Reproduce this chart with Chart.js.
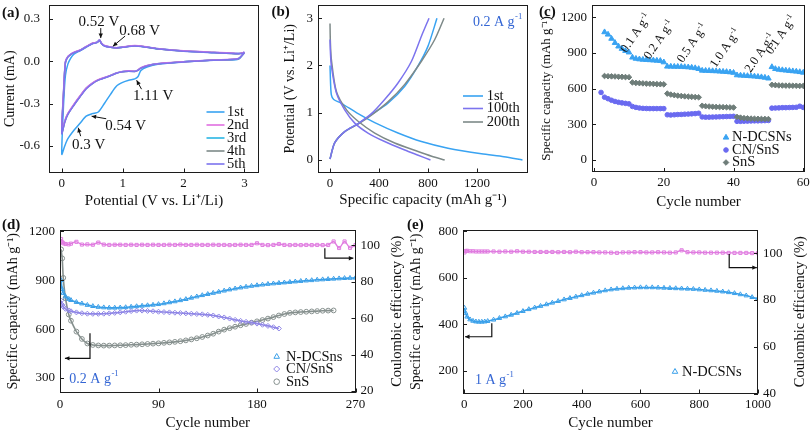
<!DOCTYPE html>
<html>
<head>
<meta charset="utf-8">
<title>Electrochemical performance</title>
<script src="https://cdn.jsdelivr.net/npm/chart.js@4.4.1/dist/chart.umd.min.js"></script>
<style>
  body { margin: 0; background: #fff; }
  #fig { position: relative; width: 810px; height: 433px; overflow: hidden; background: #fff; }
  #fig canvas { position: absolute; }
</style>
</head>
<body>
<div id="fig">
  <canvas id="chartA" width="265" height="215" style="left:0;top:0"></canvas>
  <canvas id="chartB" width="265" height="215" style="left:265px;top:0"></canvas>
  <canvas id="chartC" width="280" height="215" style="left:530px;top:0"></canvas>
  <canvas id="chartD" width="405" height="218" style="left:0;top:215px"></canvas>
  <canvas id="chartE" width="405" height="218" style="left:405px;top:215px"></canvas>
</div>
<script>
// ===== Data =====

// (a) cyclic voltammetry: cathodic sweep 3 -> 0 V, then anodic 0 -> 3 V
const cvPotential = [3.0, 2.9, 2.5, 2.0, 1.6, 1.4, 1.3, 1.25, 1.2, 1.1,
  1.0, 0.9, 0.8, 0.7, 0.6, 0.5, 0.4, 0.3, 0.2, 0.1, 0.05, 0.0,
  0.03, 0.06, 0.1, 0.15, 0.2, 0.3, 0.4, 0.5, 0.58, 0.62,
  0.65, 0.7, 0.8, 0.9, 1.0, 1.2, 1.4, 1.6, 2.0, 2.5, 2.9, 2.98, 3.0];
const cvCycle1 = [0.06, 0.015, 0.008, -0.003, -0.02, -0.04, -0.065, -0.11, -0.125, -0.135,
  -0.15, -0.175, -0.235, -0.3, -0.36, -0.372, -0.39, -0.44, -0.49, -0.55, -0.6, -0.66,
  -0.3, -0.1, -0.02, 0.025, 0.05, 0.075, 0.1, 0.125, 0.135, 0.15,
  0.13, 0.11, 0.1, 0.095, 0.1, 0.11, 0.1, 0.088, 0.074, 0.063, 0.055, 0.06, 0.065];
const cvCycle2 = [0.065, 0.02, 0.01, -0.003, -0.015, -0.03, -0.045, -0.062, -0.07, -0.068,
  -0.072, -0.082, -0.1, -0.115, -0.13, -0.155, -0.19, -0.245, -0.305, -0.37, -0.42, -0.5,
  -0.2, 0.0, 0.035, 0.052, 0.064, 0.08, 0.105, 0.128, 0.136, 0.152,
  0.13, 0.112, 0.102, 0.097, 0.102, 0.112, 0.102, 0.09, 0.075, 0.064, 0.056, 0.061, 0.066];
const cvCycle3 = [0.064, 0.019, 0.009, -0.004, -0.016, -0.031, -0.047, -0.063, -0.071, -0.069,
  -0.073, -0.083, -0.101, -0.117, -0.132, -0.157, -0.192, -0.248, -0.308, -0.373, -0.425, -0.505,
  -0.21, -0.005, 0.033, 0.05, 0.062, 0.079, 0.104, 0.127, 0.135, 0.151,
  0.129, 0.111, 0.101, 0.096, 0.101, 0.111, 0.101, 0.089, 0.074, 0.063, 0.055, 0.06, 0.065];
const cvCycle4 = [0.063, 0.018, 0.009, -0.004, -0.017, -0.032, -0.048, -0.064, -0.072, -0.07,
  -0.074, -0.084, -0.102, -0.118, -0.133, -0.158, -0.194, -0.25, -0.31, -0.376, -0.43, -0.51,
  -0.22, -0.008, 0.032, 0.05, 0.062, 0.078, 0.103, 0.126, 0.134, 0.15,
  0.128, 0.11, 0.1, 0.095, 0.1, 0.11, 0.1, 0.088, 0.073, 0.062, 0.054, 0.059, 0.064];
const cvCycle5 = [0.062, 0.018, 0.008, -0.005, -0.018, -0.033, -0.049, -0.065, -0.073, -0.071,
  -0.075, -0.085, -0.103, -0.119, -0.134, -0.16, -0.196, -0.252, -0.312, -0.378, -0.432, -0.515,
  -0.23, -0.01, 0.03, 0.049, 0.061, 0.077, 0.102, 0.125, 0.133, 0.149,
  0.127, 0.109, 0.099, 0.094, 0.099, 0.109, 0.099, 0.087, 0.072, 0.061, 0.053, 0.058, 0.063];
const cvTicksX = [0, 1, 2, 3];
const cvTicksY = [0.3, 0.0, -0.3, -0.6];

// (b) charge / discharge profiles at 0.2 A g-1
const dis1stCap = [0, 5, 11, 30, 93, 229, 365, 555, 746, 963, 1236, 1420, 1571];
const dis1stV   = [2.0, 1.6, 1.38, 1.28, 1.2, 0.98, 0.79, 0.57, 0.39, 0.25, 0.13, 0.07, 0.0];
const dis100Cap = [0, 3, 11, 52, 120, 202, 310, 446, 610, 720, 820];
const dis100V   = [2.55, 2.3, 1.99, 1.42, 1.06, 0.78, 0.57, 0.39, 0.21, 0.1, 0.0];
const dis200Cap = [0, 3, 11, 52, 135, 229, 365, 528, 718, 830, 936];
const dis200V   = [2.89, 2.5, 2.13, 1.45, 1.06, 0.82, 0.57, 0.36, 0.18, 0.08, 0.0];
const ch1stCap  = [0, 38, 120, 229, 338, 473, 610, 718, 800, 873];
const ch1stV    = [0.02, 0.36, 0.6, 0.77, 0.96, 1.2, 1.56, 1.99, 2.41, 3.0];
const ch100Cap  = [0, 38, 120, 229, 338, 446, 555, 665, 746, 808];
const ch100V    = [0.02, 0.36, 0.6, 0.77, 0.98, 1.28, 1.63, 2.09, 2.62, 3.0];
const ch200Cap  = [0, 38, 120, 229, 338, 473, 610, 746, 855, 931];
const ch200V    = [0.02, 0.36, 0.6, 0.76, 0.95, 1.23, 1.6, 2.09, 2.55, 3.0];
const gcdTicksX = [0, 400, 800, 1200];
const gcdTicksY = [0, 1, 2, 3];

// (c) rate capability
const rateCycles = [1, 2, 3, 4, 5, 6, 7, 8, 9, 10, 11, 12, 13, 14, 15, 16, 17, 18, 19, 20,
  21, 22, 23, 24, 25, 26, 27, 28, 29, 30, 31, 32, 33, 34, 35, 36, 37, 38, 39, 40,
  41, 42, 43, 44, 45, 46, 47, 48, 49, 50, 51, 52, 53, 54, 55, 56, 57, 58, 59, 60];
const rateNDC = [null, null, 1075, 1055, 1020, 985, 955, 935, 918, 905,
  862, 852, 847, 844, 842, 840, 838, 836, 834, 822,
  786, 786, 785, 785, 784, 782, 780, 777, 773, 766,
  752, 751, 750, 748, 747, 745, 743, 741, 738, 734,
  713, 711, 709, 707, 705, 703, 700, 697, 693, 686,
  782, 766, 760, 756, 753, 750, 747, 744, 740, 735];
const rateCN = [null, 568, 528, 515, 502, 492, 485, 480, 476, 472,
  450, 442, 437, 434, 433, 432, 432, 432, 432, 432,
  380, 378, 380, 382, 383, 385, 386, 388, 390, 393,
  362, 360, 360, 361, 362, 363, 364, 365, 366, 367,
  325, 325, 326, 327, 328, 329, 329, 330, 331, 332,
  436, 437, 438, 440, 440, 441, 442, 443, 452, 442];
const rateSnS = [null, null, 706, 704, 703, 702, 700, 699, 697, 696,
  652, 648, 646, 644, 642, 641, 640, 638, 637, 636,
  558, 550, 545, 541, 538, 535, 533, 531, 529, 527,
  456, 452, 450, 448, 446, 445, 444, 443, 442, 441,
  362, 356, 352, 350, 348, 347, 346, 345, 345, 344,
  632, 629, 627, 626, 625, 625, 624, 624, 623, 623];
const rateLabels = ['0.1', '0.2', '0.5', '1.0', '2.0', '0.1'];
const rateTicksX = [0, 20, 40, 60];
const rateTicksY = [0, 300, 600, 900, 1200];

// (d) cycling at 0.2 A g-1
const longCycles = [1, 2, 3, 5, 8, 10, 15, 20, 25, 30, 35, 40, 45, 50, 55, 60, 65, 70, 75, 80,
  85, 90, 95, 100, 105, 110, 115, 120, 125, 130, 135, 140, 145, 150, 155, 160, 165, 170, 175, 180,
  185, 190, 195, 200, 205, 210, 215, 220, 225, 230, 235, 240, 245, 250, 255, 260, 265, 270];
const longNDC = [900, 845, 822, 800, 785, 778, 766, 757, 748, 741, 736, 733, 731, 731, 732, 734,
  737, 740, 743, 746, 749, 753, 758, 764, 770, 777, 784, 792, 800, 808, 815, 822, 829, 836, 843, 849,
  855, 860, 865, 869, 873, 877, 880, 883, 886, 889, 892, 895, 898, 900, 903, 905, 907, 909, 911, 913,
  914, 915];
const longCN = [775, 750, 738, 725, 715, 710, 703, 698, 695, 694, 694, 695, 697, 700, 703, 707,
  711, 714, 714, 712, 710, 707, 705, 703, 701, 699, 697, 695, 693, 691, 688, 684, 678, 672, 665, 657,
  651, 645, 640, 634, 627, 620, 612, 604, null, null, null, null, null, null, null, null, null, null,
  null, null, null, null];
const longSnS = [1090, 1035, 915, 790, 690, 652, 585, 540, 512, 503, 500, 499, 499, 500, 501, 502,
  504, 505, 507, 509, 511, 513, 516, 519, 522, 526, 531, 537, 544, 552, 561, 572, 585, 597, 606, 615,
  624, 632, 640, 648, 656, 665, 674, 684, 693, 700, 703, 705, 707, 709, 711, 713, 714, 715, null, null,
  null, null];
const longCE = [103.5, 101.8, 101.2, 100.8, 100.6, 101.0, 102.0, 100.5, 100.6, 100.4, 101.6, 100.5,
  100.3, 100.4, 100.4, 100.3, 100.4, 100.3, 100.4, 100.3, 100.4, 100.3, 100.3, 100.4, 100.3, 100.5,
  100.3, 100.3, 100.4, 100.3, 100.3, 100.4, 100.3, 100.3, 100.2, 100.3, 100.4, 100.3, 100.3, 101.2,
  100.3, 100.2, 100.3, 100.8, 100.3, 100.2, 100.3, 100.2, 100.3, 100.2, 100.3, 100.2, 100.3, 102.2,
  98.6, 102.2, 98.7, 100.2];
const longTicksX = [0, 90, 180, 270];
const longTicksY = [300, 600, 900, 1200];
const longTicksCE = [20, 40, 60, 80, 100];

// (e) cycling at 1 A g-1
const highCycles = [1, 5, 10, 20, 30, 40, 50, 60, 70, 80, 100, 120, 140, 160, 180, 200, 220, 240, 260, 280,
  300, 320, 340, 360, 380, 400, 420, 440, 460, 480, 500, 520, 540, 560, 580, 600, 620, 640, 660, 680,
  700, 720, 740, 760, 780, 800, 820, 840, 860, 880, 900, 920, 940, 960, 980, 1000];
const highNDC = [470, 448, 432, 420, 414, 411, 410, 410, 411, 413, 419, 426, 433, 440, 448, 456, 464, 471, 478, 485,
  492, 499, 506, 512, 518, 524, 530, 535, 540, 545, 549, 552, 554, 556, 557, 558, 558, 558, 557, 556,
  555, 554, 553, 552, 551, 549, 547, 545, 543, 540, 537, 533, 528, 523, 516, 510];
const highCE = [100.4, 101.0, 101.1, 100.9, 100.9, 100.8, 100.8, 100.8, 100.8, 100.8,
  100.8, 100.7, 100.8, 100.7, 100.9, 100.7, 100.7, 100.6, 100.6, 100.6,
  100.6, 100.5, 100.6, 100.5, 100.7, 100.5, 100.5, 100.5, 100.4, 100.4,
  100.3, 100.2, 100.4, 100.4, 100.5, 100.5, 100.4, 100.4, 100.5, 100.4,
  100.3, 100.4, 101.3, 100.5, 100.4, 100.4, 100.3, 100.3, 100.3, 100.3,
  100.2, 100.2, 100.2, 100.2, 100.1, 100.1];
const highTicksX = [0, 200, 400, 600, 800, 1000];
const highTicksY = [200, 400, 600, 800];
const highTicksCE = [40, 60, 80, 100];

// ===== Styling =====
const FONT = '"Liberation Serif", "Times New Roman", serif';
const INK = '#111';
const BLUE_TXT = '#3466d4';
const C_LIGHT = '#39a3f2';
const C_PINK = '#e06fe0';
const C_CYAN = '#2ab6e4';
const C_GRAY = '#7e8a89';
const C_SLATE = '#7c74ee';
const C_CE = '#e07ce0';

Chart.defaults.font.family = FONT;
Chart.defaults.color = INK;

// ===== Helpers =====
function pairs(xs, ys) {
  return xs.map((x, i) => ({ x, y: ys[i] })).filter(p => p.y !== null && p.y !== undefined);
}

function lineSet(xs, ys, color, width) {
  return { data: pairs(xs, ys), showLine: true, borderColor: color, borderWidth: width || 1.5,
    pointRadius: 0, tension: 0.25, fill: false };
}

function markSet(xs, ys, color, style, radius, open, yAxisID, lineWidth) {
  return { data: pairs(xs, ys), yAxisID: yAxisID || 'y', showLine: !!lineWidth, borderWidth: lineWidth || 0,
    borderColor: color, pointStyle: style, pointRadius: radius, pointBorderWidth: 1,
    pointBorderColor: color, pointBackgroundColor: open ? 'rgba(255,255,255,0)' : color, tension: 0.3 };
}

function linAxis(o) {
  const horiz = o.position === 'bottom';
  return {
    type: 'linear', position: o.position, min: o.min, max: o.max,
    afterBuildTicks: s => { s.ticks = o.ticks.map(v => ({ value: v })); },
    afterFit: s => {
      if (horiz) s.height = o.size; else s.width = o.size;
      s.paddingLeft = 0; s.paddingRight = 0; s.paddingTop = 0; s.paddingBottom = 0;
    },
    grid: { display: false, drawTicks: false },
    border: { display: false },
    ticks: { padding: o.tickPad, autoSkip: false, maxRotation: 0, color: INK, font: { size: 13 },
      callback: v => (o.fmt ? o.fmt(v) : String(v)) },
    title: { display: !!o.title, text: o.title || '', color: INK, font: { size: o.titleSize || 15 },
      padding: { top: o.titlePad || 0, bottom: o.titlePad || 0 } }
  };
}

function baseOptions(padding, scales) {
  return {
    responsive: false, animation: false, devicePixelRatio: 1, events: [],
    layout: { padding },
    plugins: { legend: { display: false }, tooltip: { enabled: false } },
    scales
  };
}

// frame round the plot area + short inward ticks
const frameTicks = {
  id: 'frameTicks',
  afterDatasetsDraw(chart) {
    const { ctx, chartArea: a } = chart;
    ctx.save();
    ctx.strokeStyle = '#1c1c1c';
    ctx.lineWidth = 1;
    ctx.strokeRect(Math.round(a.left) + 0.5, Math.round(a.top) + 0.5,
      Math.round(a.right - a.left) - 1, Math.round(a.bottom - a.top) - 1);
    Object.values(chart.scales).forEach(s => {
      s.ticks.forEach(t => {
        const p = Math.round(s.getPixelForValue(t.value)) + 0.5;
        ctx.beginPath();
        if (s.isHorizontal()) { ctx.moveTo(p, a.bottom); ctx.lineTo(p, a.bottom - 4); }
        else if (s.position === 'left') { ctx.moveTo(a.left, p); ctx.lineTo(a.left + 4, p); }
        else { ctx.moveTo(a.right, p); ctx.lineTo(a.right - 4, p); }
        ctx.stroke();
      });
    });
    ctx.restore();
  }
};

function px(chart, x, y, yId) {
  return [chart.scales.x.getPixelForValue(x), chart.scales[yId || 'y'].getPixelForValue(y)];
}

function arrow(ctx, pts, head) {
  head = head || 5;
  ctx.beginPath();
  ctx.moveTo(pts[0][0], pts[0][1]);
  pts.slice(1).forEach(p => ctx.lineTo(p[0], p[1]));
  ctx.stroke();
  const [x1, y1] = pts[pts.length - 2], [x2, y2] = pts[pts.length - 1];
  const ang = Math.atan2(y2 - y1, x2 - x1);
  ctx.beginPath();
  ctx.moveTo(x2, y2);
  ctx.lineTo(x2 - head * Math.cos(ang - 0.45), y2 - head * Math.sin(ang - 0.45));
  ctx.lineTo(x2 - head * Math.cos(ang + 0.45), y2 - head * Math.sin(ang + 0.45));
  ctx.closePath();
  ctx.fill();
}

// text with a superscript tail, e.g. "0.2 A g" + "-1"
function supText(ctx, base, sup, x, y, size) {
  ctx.font = size + 'px ' + FONT;
  ctx.fillText(base, x, y);
  const w = ctx.measureText(base).width;
  ctx.font = (size * 0.62) + 'px ' + FONT;
  ctx.fillText(sup, x + w + 0.5, y - size * 0.38);
}

function panelLabel(ctx, text, x, y) {
  ctx.font = 'bold 15px ' + FONT;
  ctx.fillStyle = INK;
  ctx.textAlign = 'left';
  ctx.textBaseline = 'middle';
  ctx.fillText(text, x, y);
}

function lineLegend(ctx, items, x0, x1, tx, ys) {
  ctx.font = '14.5px ' + FONT;
  ctx.textAlign = 'left';
  ctx.textBaseline = 'middle';
  items.forEach((it, i) => {
    ctx.strokeStyle = it.color;
    ctx.lineWidth = 1.6;
    ctx.beginPath(); ctx.moveTo(x0, ys[i]); ctx.lineTo(x1, ys[i]); ctx.stroke();
    ctx.fillStyle = INK;
    ctx.fillText(it.label, tx, ys[i]);
  });
}

function markLegend(ctx, items, mx, tx, ys) {
  ctx.font = '14.5px ' + FONT;
  ctx.textAlign = 'left';
  ctx.textBaseline = 'middle';
  items.forEach((it, i) => {
    ctx.strokeStyle = it.color;
    ctx.fillStyle = it.open ? 'rgba(255,255,255,0)' : it.color;
    ctx.lineWidth = 1;
    Chart.helpers.drawPoint(ctx, { pointStyle: it.style, radius: it.r, rotation: 0, borderWidth: 1 }, mx, ys[i]);
    ctx.fillStyle = INK;
    ctx.fillText(it.label, tx, ys[i]);
  });
}

function rightTitle(ctx, text, x, y) {
  ctx.save();
  ctx.translate(x, y);
  ctx.rotate(-Math.PI / 2);
  ctx.font = '14.5px ' + FONT;
  ctx.fillStyle = INK;
  ctx.textAlign = 'center';
  ctx.textBaseline = 'middle';
  ctx.fillText(text, 0, 0);
  ctx.restore();
}

// ===== (a) CV =====
new Chart(document.getElementById('chartA'), {
  type: 'scatter',
  data: { datasets: [
    lineSet(cvPotential, cvCycle5, C_SLATE),
    lineSet(cvPotential, cvCycle2, C_PINK),
    lineSet(cvPotential, cvCycle4, C_GRAY),
    lineSet(cvPotential, cvCycle3, C_CYAN),
    lineSet(cvPotential, cvCycle1, C_LIGHT)
  ] },
  options: baseOptions({ top: 5, right: 6, left: 0, bottom: 0 }, {
    x: linAxis({ position: 'bottom', min: -0.21, max: 3.24, ticks: cvTicksX, size: 42.5, tickPad: 3,
      title: 'Potential (V vs. Li\u207A/Li)', titlePad: 5 }),
    y: linAxis({ position: 'left', min: -0.79, max: 0.4, ticks: cvTicksY, size: 49, tickPad: 9,
      fmt: v => v.toFixed(1), title: 'Current (mA)', titleSize: 14, titlePad: 1.6 })
  }),
  plugins: [frameTicks, {
    id: 'notesA',
    afterDraw(chart) {
      const ctx = chart.ctx;
      ctx.save();
      ctx.fillStyle = INK; ctx.strokeStyle = INK; ctx.lineWidth = 1;
      ctx.font = '15px ' + FONT; ctx.textAlign = 'center'; ctx.textBaseline = 'middle';
      const notes = [
        { t: '0.52 V', at: [0.61, 0.281], from: [0.64, 0.236], to: [0.64, 0.165] },
        { t: '0.68 V', at: [1.28, 0.212], from: [1.04, 0.179], to: [0.84, 0.107] },
        { t: '1.11 V', at: [1.5, -0.246], from: [1.31, -0.198], to: [1.23, -0.135] },
        { t: '0.54 V', at: [1.05, -0.461], from: [0.73, -0.408], to: [0.49, -0.39] },
        { t: '0.3 V', at: [0.44, -0.592], from: [0.31, -0.532], to: [0.27, -0.472] }
      ];
      notes.forEach(n => {
        const p = px(chart, n.at[0], n.at[1]);
        ctx.fillText(n.t, p[0], p[1]);
        arrow(ctx, [px(chart, n.from[0], n.from[1]), px(chart, n.to[0], n.to[1])], 5);
      });
      lineLegend(ctx, [
        { label: '1st', color: C_LIGHT }, { label: '2nd', color: C_PINK }, { label: '3rd', color: C_CYAN },
        { label: '4th', color: C_GRAY }, { label: '5th', color: C_SLATE }
      ], 206.5, 224.5, 227, [112, 125, 138, 151, 164]);
      panelLabel(ctx, '(a)', 2, 13);
      ctx.restore();
    }
  }]
});

// ===== (b) charge / discharge =====
new Chart(document.getElementById('chartB'), {
  type: 'scatter',
  data: { datasets: [
    lineSet(dis100Cap, dis100V, C_SLATE),
    lineSet(ch100Cap, ch100V, C_SLATE),
    lineSet(dis200Cap, dis200V, C_GRAY),
    lineSet(ch200Cap, ch200V, C_GRAY),
    lineSet(dis1stCap, dis1stV, C_LIGHT),
    lineSet(ch1stCap, ch1stV, C_LIGHT)
  ] },
  options: baseOptions({ top: 5, right: 2, left: 0, bottom: 0 }, {
    x: linAxis({ position: 'bottom', min: -98, max: 1616, ticks: gcdTicksX, size: 42.5, tickPad: 3,
      title: 'Specific capacity (mAh g\u207B\u00B9)', titlePad: 6 }),
    y: linAxis({ position: 'left', min: -0.265, max: 3.28, ticks: gcdTicksY, size: 53, tickPad: 5,
      title: 'Potential (V vs. Li\u207A/Li)', titleSize: 14, titlePad: 16.6 })
  }),
  plugins: [frameTicks, {
    id: 'notesB',
    afterDraw(chart) {
      const ctx = chart.ctx;
      ctx.save();
      lineLegend(ctx, [
        { label: '1st', color: C_LIGHT }, { label: '100th', color: C_SLATE }, { label: '200th', color: C_GRAY }
      ], 198, 218, 221.7, [96, 108.5, 122]);
      ctx.fillStyle = BLUE_TXT; ctx.textAlign = 'left'; ctx.textBaseline = 'middle';
      supText(ctx, '0.2 A g', '-1', 208, 22, 14);
      panelLabel(ctx, '(b)', 6.5, 12);
      ctx.restore();
    }
  }]
});

// ===== (c) rate capability =====
new Chart(document.getElementById('chartC'), {
  type: 'scatter',
  data: { datasets: [
    markSet(rateCycles, rateNDC, C_LIGHT, 'triangle', 3.2, false),
    markSet(rateCycles, rateSnS, '#6e7d79', 'rectRot', 2.8, false),
    markSet(rateCycles, rateCN, '#6a6af0', 'circle', 2.3, false)
  ] },
  options: baseOptions({ top: 5, right: 5, left: 0, bottom: 0 }, {
    x: linAxis({ position: 'bottom', min: -0.6, max: 60.5, ticks: rateTicksX, size: 43, tickPad: 3,
      title: 'Cycle number', titlePad: 4.3 }),
    y: linAxis({ position: 'left', min: -101, max: 1303, ticks: rateTicksY, size: 62, tickPad: 5,
      title: 'Specific capacity (mAh g\u207B\u00B9)', titleSize: 13, titlePad: 8.9 })
  }),
  plugins: [frameTicks, {
    id: 'notesC',
    afterDraw(chart) {
      const ctx = chart.ctx;
      ctx.save();
      const anchors = [[9.2, 897], [15.9, 841], [25.4, 813], [34.9, 771], [44.9, 729], [50.9, 883]];
      ctx.fillStyle = INK; ctx.textAlign = 'left'; ctx.textBaseline = 'alphabetic';
      rateLabels.forEach((r, i) => {
        const p = px(chart, anchors[i][0], anchors[i][1]);
        ctx.save();
        ctx.translate(p[0], p[1]);
        ctx.rotate(-56 * Math.PI / 180);
        supText(ctx, r + ' A g', '-1', 0, 0, 12.5);
        ctx.restore();
      });
      markLegend(ctx, [
        { label: 'N-DCSNs', color: C_LIGHT, style: 'triangle', r: 3.2 },
        { label: 'CN/SnS', color: '#6a6af0', style: 'circle', r: 2.3 },
        { label: 'SnS', color: '#6e7d79', style: 'rectRot', r: 2.8 }
      ], 196, 202, [137.5, 150, 162.5]);
      panelLabel(ctx, '(c)', 9, 12);
      ctx.restore();
    }
  }]
});

// ===== (d) long cycling at 0.2 A g-1 =====
new Chart(document.getElementById('chartD'), {
  type: 'scatter',
  data: { datasets: [
    markSet(longCycles, longCE, C_CE, 'rect', 2.2, true, 'y2', 1.4),
    markSet(longCycles, longNDC, '#3a9fe8', 'triangle', 2.6, true, 'y', 1.6),
    markSet(longCycles, longCN, '#8f86e6', 'rectRot', 2.5, true, 'y', 1.6),
    markSet(longCycles, longSnS, '#86908e', 'circle', 2.4, true, 'y', 1.6)
  ] },
  options: baseOptions({ top: 15, right: 0, left: 0, bottom: 0 }, {
    x: linAxis({ position: 'bottom', min: 0, max: 270, ticks: longTicksX, size: 40.5, tickPad: 4.7,
      title: 'Cycle number', titlePad: 1 }),
    y: linAxis({ position: 'left', min: 211, max: 1209, ticks: longTicksY, size: 60, tickPad: 5,
      title: 'Specific capacity (mAh g\u207B\u00B9)', titleSize: 14, titlePad: 4.9 }),
    y2: linAxis({ position: 'right', min: 19.2, max: 108.5, ticks: longTicksCE, size: 49.5, tickPad: 5 })
  }),
  plugins: [frameTicks, {
    id: 'notesD',
    afterDraw(chart) {
      const ctx = chart.ctx;
      ctx.save();
      ctx.fillStyle = INK; ctx.strokeStyle = INK; ctx.lineWidth = 1.2;
      arrow(ctx, [px(chart, 27.4, 575), px(chart, 27.4, 421), px(chart, 4.5, 421)], 5);
      arrow(ctx, [px(chart, 242, 98.5, 'y2'), px(chart, 242, 93, 'y2'), px(chart, 268, 93, 'y2')], 5);
      markLegend(ctx, [
        { label: 'N-DCSns', color: '#3a9fe8', style: 'triangle', r: 3.2, open: true },
        { label: 'CN/SnS', color: '#8f86e6', style: 'rectRot', r: 3, open: true },
        { label: 'SnS', color: '#86908e', style: 'circle', r: 2.8, open: true }
      ], 276.7, 286, [141.7, 154, 166.7]);
      ctx.fillStyle = BLUE_TXT; ctx.textAlign = 'left'; ctx.textBaseline = 'middle';
      supText(ctx, '0.2 A g', '-1', 69.3, 164, 14);
      rightTitle(ctx, 'Coulombic efficiency (%)', 396.7, 96.3);
      panelLabel(ctx, '(d)', 2, 10);
      ctx.restore();
    }
  }]
});

// ===== (e) long cycling at 1 A g-1 =====
new Chart(document.getElementById('chartE'), {
  type: 'scatter',
  data: { datasets: [
    markSet(highCycles, highCE, C_CE, 'rect', 2.2, true, 'y2', 1.4),
    markSet(highCycles, highNDC, '#3aa0ea', 'triangle', 2.6, true, 'y', 1.6)
  ] },
  options: baseOptions({ top: 15, right: 0, left: 0, bottom: 0 }, {
    x: linAxis({ position: 'bottom', min: -4, max: 1000, ticks: highTicksX, size: 39.5, tickPad: 3.7,
      title: 'Cycle number', titlePad: 0.7 }),
    y: linAxis({ position: 'left', min: 102, max: 805, ticks: highTicksY, size: 58, tickPad: 5,
      title: 'Specific capacity (mAh g\u207B\u00B9)', titleSize: 14, titlePad: 3.3 }),
    y2: linAxis({ position: 'right', min: 40, max: 110, ticks: highTicksCE, size: 52, tickPad: 5 })
  }),
  plugins: [frameTicks, {
    id: 'notesE',
    afterDraw(chart) {
      const ctx = chart.ctx;
      ctx.save();
      ctx.fillStyle = INK; ctx.strokeStyle = INK; ctx.lineWidth = 1.2;
      arrow(ctx, [px(chart, 94, 404), px(chart, 94, 346), px(chart, 3, 346)], 5);
      arrow(ctx, [px(chart, 902, 99.7, 'y2'), px(chart, 902, 93.9, 'y2'), px(chart, 996, 93.9, 'y2')], 5);
      markLegend(ctx, [
        { label: 'N-DCSNs', color: '#3aa0ea', style: 'triangle', r: 3.2, open: true }
      ], 270, 277, [156.7]);
      ctx.fillStyle = BLUE_TXT; ctx.textAlign = 'left'; ctx.textBaseline = 'middle';
      supText(ctx, '1 A g', '-1', 70, 165, 14);
      rightTitle(ctx, 'Coulombic efficiency (%)', 395, 96.7);
      panelLabel(ctx, '(e)', 2, 10);
      ctx.restore();
    }
  }]
});
</script>
</body>
</html>
